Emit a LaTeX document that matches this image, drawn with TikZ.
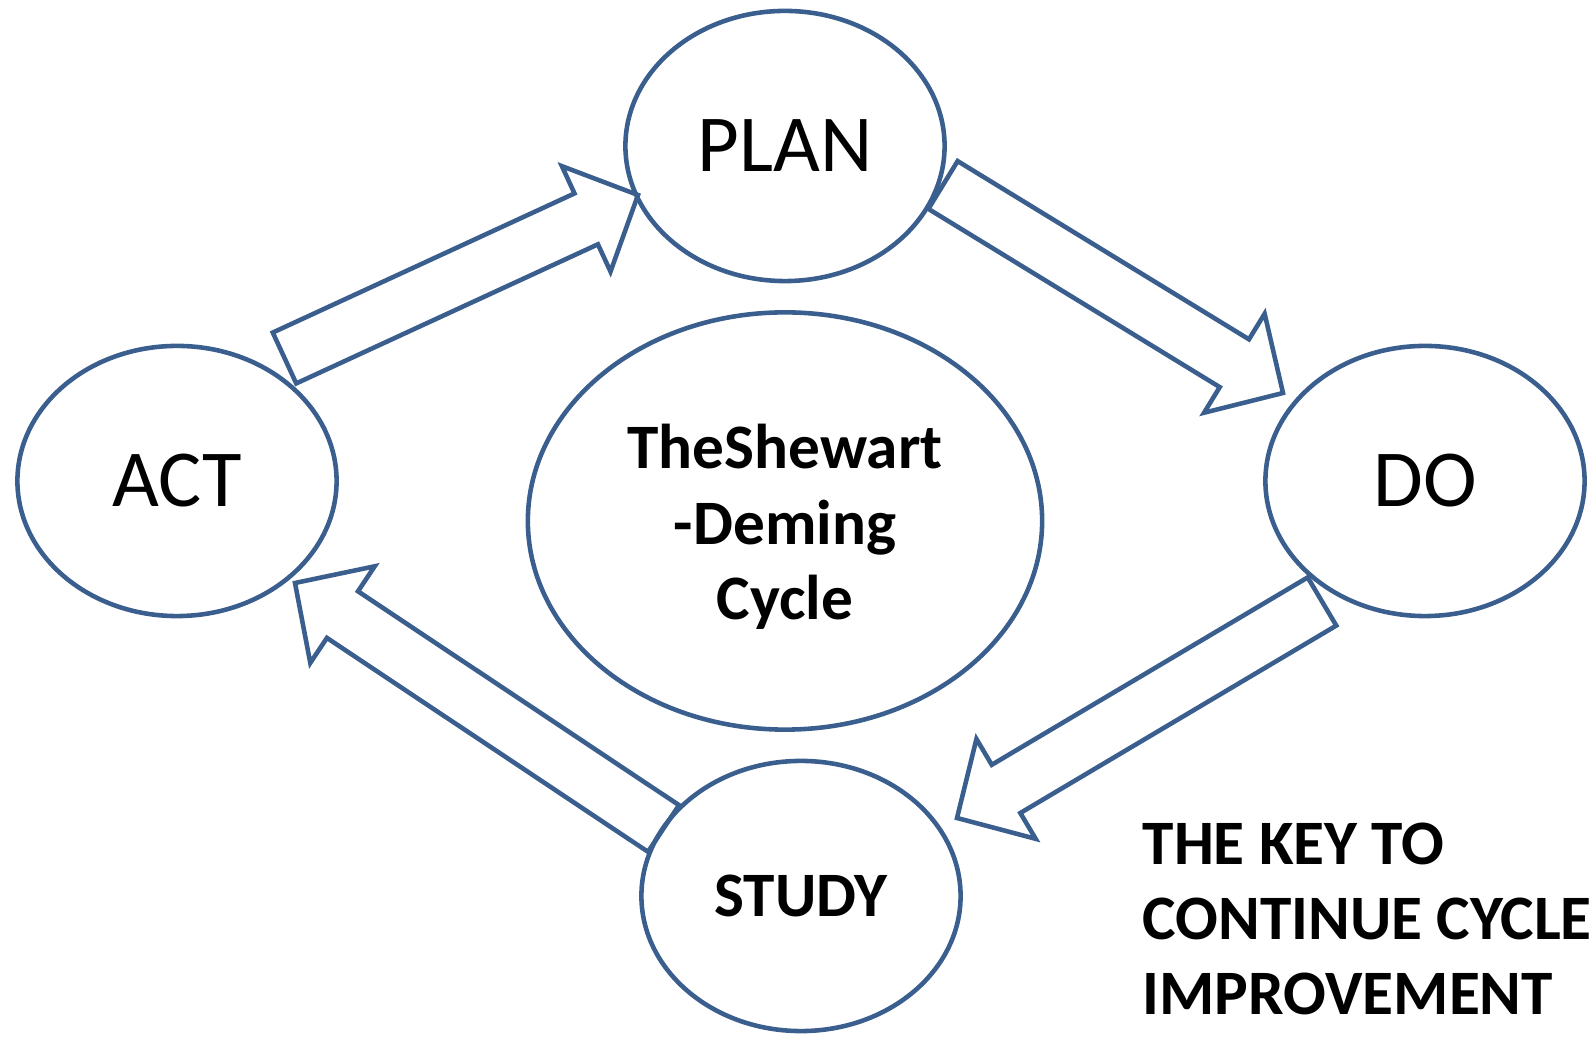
\documentclass[tikz,border=0pt]{standalone}
\usepackage{fontspec}
\setmainfont{Carlito}
\usetikzlibrary{shapes.geometric,calc}
\definecolor{pdsaline}{HTML}{3A5F8E}

% hollow block arrow from tail coordinate #1 to tip coordinate #2
\newcommand{\blockarrow}[2]{%
\coordinate (head) at ($(#2)!0.57cm!(#1)$);
\draw [blockarrow] ($(#1)!0.28cm!90:(#2)$) -- ($(head)!0.28cm!90:(#2)$)
  -- ($(head)!0.58cm!90:(#2)$) -- (#2) -- ($(head)!0.58cm!-90:(#2)$)
  -- ($(head)!0.28cm!-90:(#2)$) -- ($(#1)!0.28cm!-90:(#2)$) -- cycle;
}

\begin{document}
\begin{tikzpicture}[x=0.01cm,y=-0.01cm]
\tikzstyle{phase} = [ellipse, draw=pdsaline, line width=1.3pt, minimum width=3.19cm, minimum height=2.70cm, inner sep=0pt, font=\fontsize{23}{28}\selectfont]
\tikzstyle{hub} = [ellipse, draw=pdsaline, line width=1.3pt, minimum width=5.14cm, minimum height=4.17cm, align=center, font=\fontsize{18}{21.4}\selectfont\bfseries]
\tikzstyle{boldtext} = [font=\fontsize{18}{21.4}\selectfont\bfseries]
\tikzstyle{blockarrow} = [draw=pdsaline, line width=1.3pt, line join=miter]

\useasboundingbox (0,0) rectangle (1596,1037);

%nodes
\node (cycle) [hub] at (785,521) {\rule{0pt}{16pt}TheShewart\\-Deming\\Cycle};
\node (plan)  [phase] at (785,146) {PLAN};
\node (act)   [phase] at (177,481) {ACT};
\node (do)    [phase] at (1425,481) {DO};
\node (study) [phase, boldtext] at (801,896) {STUDY};
\node (keynote) [boldtext, anchor=north west, inner sep=0pt, align=left] at (1142,822) {THE KEY TO\\CONTINUE CYCLE\\IMPROVEMENT};

%arrow ends
\coordinate (actout)   at (284.5,358);
\coordinate (planin)   at (638,195);
\coordinate (planout)  at (943,185);
\coordinate (doin)     at (1283,393);
\coordinate (doout)    at (1322,601.5);
\coordinate (studyin)  at (957,818);
\coordinate (studyout) at (663.5,828.5);
\coordinate (actin)    at (295,583);

%arrows
\blockarrow{actout}{planin}
\blockarrow{planout}{doin}
\blockarrow{doout}{studyin}
\blockarrow{studyout}{actin}

\end{tikzpicture}
\end{document}
